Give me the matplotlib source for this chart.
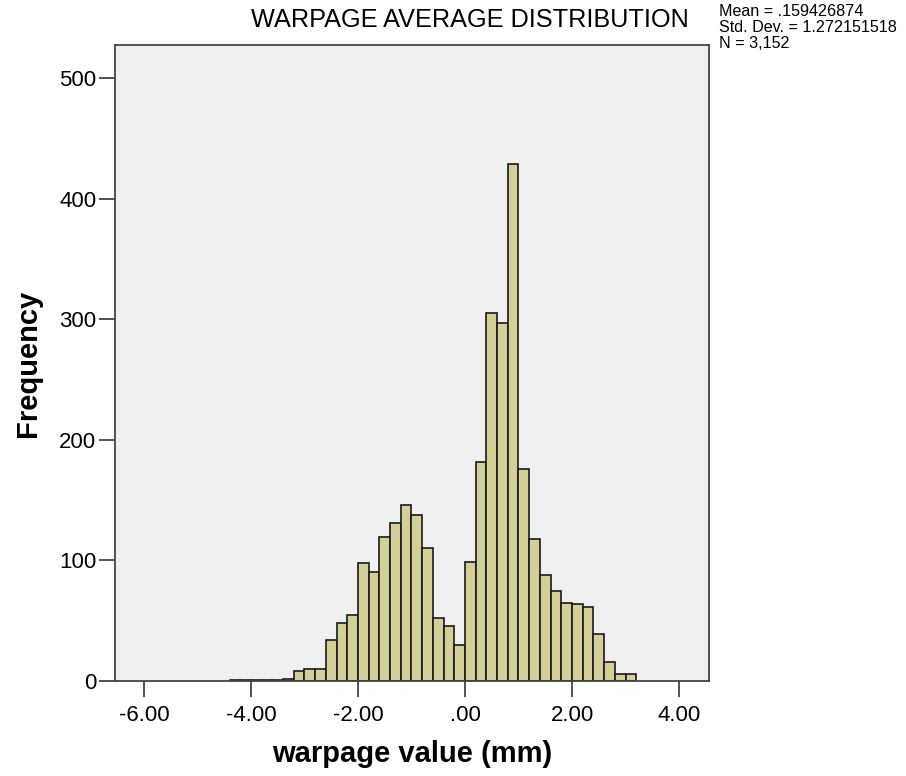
import matplotlib
matplotlib.use("Agg")
import matplotlib.pyplot as plt

plt.rcParams['font.family'] = ['Liberation Sans', 'DejaVu Sans']

# ---- data ----
bin_starts = [-4.4, -4.2, -4.0, -3.8, -3.6, -3.4, -3.2, -3.0, -2.8, -2.6,
              -2.4, -2.2, -2.0, -1.8, -1.6, -1.4, -1.2, -1.0, -0.8, -0.6,
              -0.4, -0.2, 0.0, 0.2, 0.4, 0.6, 0.8, 1.0, 1.2, 1.4,
              1.6, 1.8, 2.0, 2.2, 2.4, 2.6, 2.8, 3.0]
counts = [1, 1, 1, 1, 1, 2, 8, 10, 10, 34,
          48, 55, 98, 90, 119, 131, 146, 138, 110, 52,
          46, 30, 99, 182, 305, 297, 429, 176, 118, 88,
          75, 65, 64, 61, 39, 16, 6, 6]
bin_width = 0.2
x_ticks = [-6, -4, -2, 0, 2, 4]
x_tick_labels = ['-6.00', '-4.00', '-2.00', '.00', '2.00', '4.00']
y_ticks = [0, 100, 200, 300, 400, 500]
y_tick_labels = ['0', '100', '200', '300', '400', '500']
title = 'WARPAGE AVERAGE DISTRIBUTION'
stats_lines = ['Mean = .159426874', 'Std. Dev. = 1.272151518', 'N = 3,152']

# ---- figure ----
W, H = 906, 776
fig = plt.figure(figsize=(W / 100, H / 100), dpi=100)
ax = fig.add_axes([115 / W, 1 - 681 / H, (709 - 115) / W, (681 - 45) / H])
ax.set_facecolor('#f0f0f0')

ax.bar(bin_starts, counts, width=bin_width, align='edge',
       color='#d4ce98', edgecolor='#1a1a1a', linewidth=1.2, zorder=2)

ax.set_xlim(-6.54, 4.56)
ax.set_ylim(0, 527.4)

ax.set_xticks(x_ticks)
ax.set_xticklabels(x_tick_labels)
ax.set_yticks(y_ticks)
ax.set_yticklabels(y_tick_labels)
ax.tick_params(axis='both', direction='out', length=11.5, width=1.3,
               color='#444444', labelsize=16, labelcolor='black')
ax.tick_params(axis='x', pad=6)
ax.tick_params(axis='y', pad=2)

for s in ax.spines.values():
    s.set_color('#444444')
    s.set_linewidth(1.3)

ax.set_xlabel('warpage value (mm)', fontsize=21, fontweight='bold', labelpad=10)
ax.set_ylabel('Frequency', fontsize=21, fontweight='bold', labelpad=12)

fig.text(470 / W, 1 - 20 / H, title, fontsize=18.2, ha='center', va='center')
for i, line in enumerate(stats_lines):
    fig.text(719 / W, 1 - (12 + 16 * i) / H, line, fontsize=11.6,
             ha='left', va='center')

fig.savefig('out.png', dpi=100)
